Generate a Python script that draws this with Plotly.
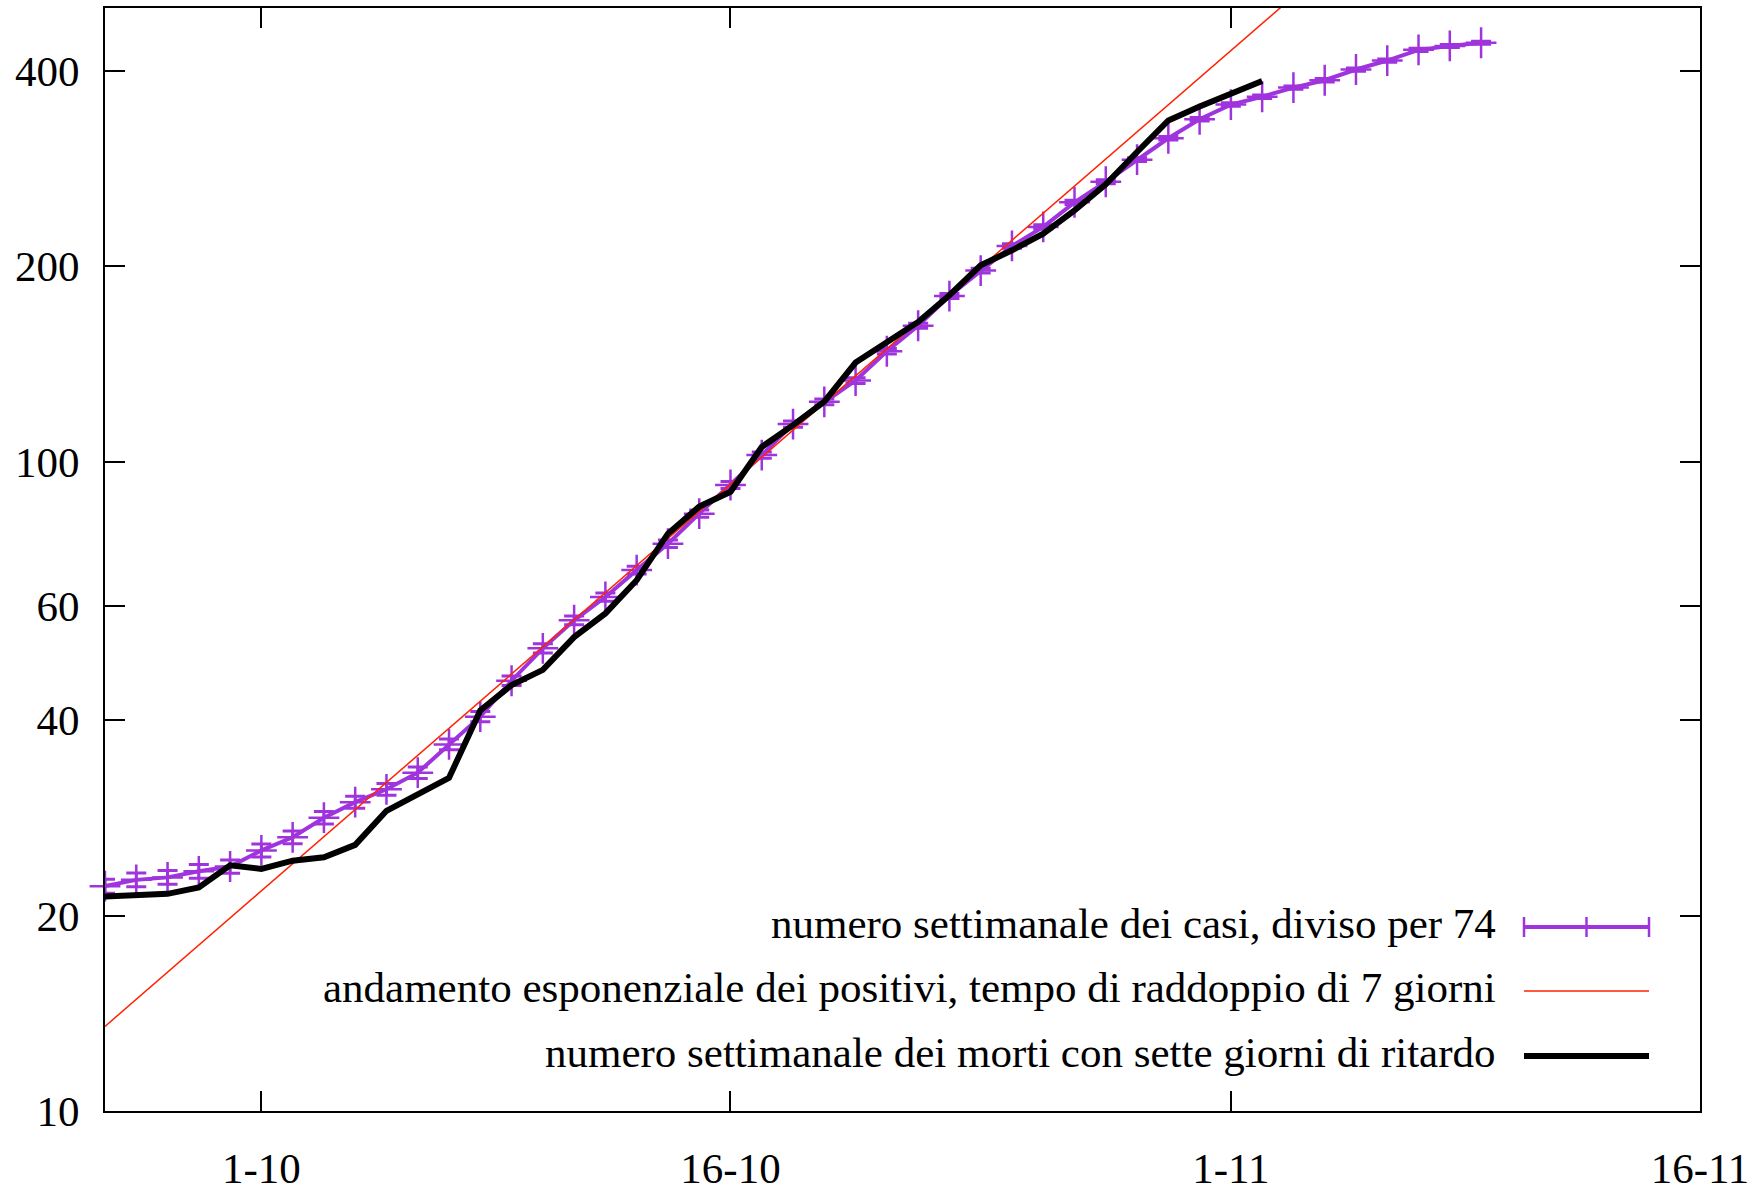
import math
import datetime as dt
import plotly.graph_objects as go

# ---------------- data ----------------
start = dt.date(2020, 9, 26)

casi_values = [22.2, 22.7, 22.9, 23.4, 23.8, 25.2, 26.4, 28.3, 29.9, 31.3,
               33.2, 36.7, 40.5, 46.0, 51.6, 57.0, 61.9, 68.1, 74.8, 83.2,
               92.1, 102.4, 114.3, 123.7, 133.4, 148, 162, 180, 197, 215,
               230, 251, 270, 292, 315, 337, 355, 365, 377, 387,
               402, 415, 431, 437, 442]
casi_errors = [0.548, 0.554, 0.556, 0.562, 0.567, 0.584, 0.597, 0.618, 0.636, 0.650,
               0.670, 0.704, 0.740, 0.788, 0.835, 0.878, 0.915, 0.959, 1.005, 1.060,
               1.116, 1.176, 1.243, 1.293, 1.343, 1.414, 1.480, 1.560, 1.632, 1.705,
               1.763, 1.842, 1.910, 1.986, 2.063, 2.134, 2.190, 2.221, 2.257, 2.287,
               2.331, 2.368, 2.413, 2.430, 2.444]
casi_dates = [start + dt.timedelta(days=i) for i in range(len(casi_values))]

morti_values = [21.4, 21.5, 21.6, 22.1, 23.9, 23.6, 24.3, 24.6, 25.7, 29.0,
                30.8, 32.6, 41.4, 45.3, 47.8, 53.7, 58.4, 65.7, 77.5, 85.3,
                89.9, 105.4, 113.9, 123.8, 142.2, 152.9, 164.2, 180.5, 200.7, 211.7,
                224.6, 243.8, 267.5, 300.0, 335.5, 352.5, 369.5, 386.0]
morti_dates = [start + dt.timedelta(days=i) for i in range(len(morti_values))]

# exponential trend (doubling time 7 days), its two end points
esp_dates = ["2020-09-26", "2020-11-03"]
esp_values = [13.5, 521]

x_range = ["2020-09-26", "2020-11-16"]
x_tickvals = ["2020-10-01", "2020-10-16", "2020-11-01", "2020-11-16"]
x_ticktext = ["1-10", "16-10", "1-11", "16-11"]
y_tickvals = [10, 20, 40, 60, 100, 200, 400]
y_ticktext = ["10", "20", "40", "60", "100", "200", "400"]
y_range = [10, 500]

legend_labels = [
    "numero settimanale dei casi, diviso per 74",
    "andamento esponenziale dei positivi, tempo di raddoppio di 7 giorni",
    "numero settimanale dei morti con sette giorni di ritardo",
]

# ---------------- styles ----------------
PURPLE = "#a034dc"
RED = "#ff2200"
BLACK = "#000000"
FONT = "Liberation Serif"
FS = 43

W, H = 1763, 1193
ML, MR, MT, MB = 105, 63, 8, 82
PW, PH = W - ML - MR, H - MT - MB


def px_x(px):
    return (px - ML) / PW


def px_y(py):
    return (H - MB - py) / PH


fig = go.Figure()

fig.add_trace(go.Scatter(
    x=casi_dates, y=casi_values, mode="lines+markers",
    line=dict(color=PURPLE, width=4),
    marker=dict(symbol="cross-thin", size=22, line=dict(color=PURPLE, width=2.5), color=PURPLE),
    error_y=dict(type="data", array=casi_errors, color=PURPLE, thickness=3, width=10),
    cliponaxis=False, showlegend=False,
))
fig.add_trace(go.Scatter(
    x=esp_dates, y=esp_values, mode="lines",
    line=dict(color=RED, width=1.5), showlegend=False,
))
fig.add_trace(go.Scatter(
    x=morti_dates, y=morti_values, mode="lines",
    line=dict(color=BLACK, width=6), showlegend=False,
))

axis_common = dict(
    showline=True, linecolor="black", linewidth=2, mirror="ticks",
    ticks="inside", ticklen=20, tickwidth=1.6, tickcolor="black",
    showgrid=False, zeroline=False,
    tickfont=dict(family=FONT, size=FS, color="black"),
)

fig.update_xaxes(type="date", range=x_range, tickmode="array",
                 tickvals=x_tickvals, ticktext=x_ticktext,
                 ticklabelstandoff=18, **axis_common)
fig.update_yaxes(type="log", range=[math.log10(y_range[0]), math.log10(y_range[1])],
                 tickmode="array", tickvals=y_tickvals, ticktext=y_ticktext,
                 ticklabelstandoff=15, **axis_common)

# custom legend (text right-aligned, sample on the right)
rows_py = [927, 991, 1056]
text_dy = -4
text_right = 1498
s0, s1 = 1524, 1649
for lab, py in zip(legend_labels, rows_py):
    fig.add_annotation(xref="paper", yref="paper", x=px_x(text_right), y=px_y(py + text_dy),
                       text=lab, showarrow=False, xanchor="right", yanchor="middle",
                       font=dict(family=FONT, size=FS, color="black"))
# purple sample
py = rows_py[0]
fig.add_shape(type="line", xref="paper", yref="paper", x0=px_x(s0), x1=px_x(s1),
              y0=px_y(py), y1=px_y(py), line=dict(color=PURPLE, width=4))
for xx in (s0, (s0 + s1) / 2, s1):
    fig.add_shape(type="line", xref="paper", yref="paper", x0=px_x(xx), x1=px_x(xx),
                  y0=px_y(py - 10), y1=px_y(py + 10), line=dict(color=PURPLE, width=2.5))
# red sample
py = rows_py[1]
fig.add_shape(type="line", xref="paper", yref="paper", x0=px_x(s0), x1=px_x(s1),
              y0=px_y(py), y1=px_y(py), line=dict(color=RED, width=1.5))
# black sample
py = rows_py[2]
fig.add_shape(type="line", xref="paper", yref="paper", x0=px_x(s0), x1=px_x(s1),
              y0=px_y(py), y1=px_y(py), line=dict(color=BLACK, width=6))

fig.update_layout(
    width=W, height=H,
    margin=dict(l=ML, r=MR, t=MT, b=MB, autoexpand=False),
    paper_bgcolor="white", plot_bgcolor="white",
    font=dict(family=FONT, size=FS, color="black"),
    showlegend=False,
)

fig.write_html("out.html",
               config={"displayModeBar": False},
               post_script="document.body.style.margin='0px';"
                           "document.body.style.overflow='hidden';")
